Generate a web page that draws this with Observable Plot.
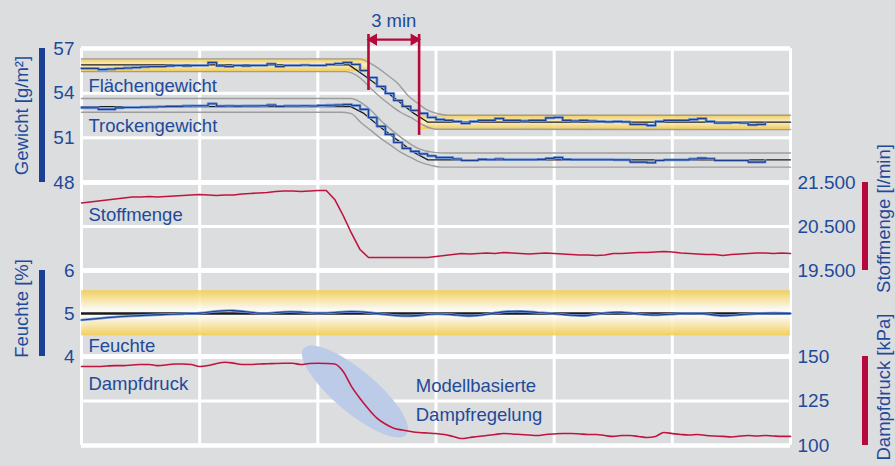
<!DOCTYPE html>
<html><head><meta charset="utf-8">
<script src="https://cdn.jsdelivr.net/npm/d3@7"></script>
<script src="https://cdn.jsdelivr.net/npm/@observablehq/plot@0.6"></script>
<style>
body{margin:0;background:#dcdddf;}
#chart{position:relative;width:895px;height:466px;overflow:hidden;background:#dcdddf;}
#chart svg{position:absolute;left:0;overflow:visible;}
</style></head><body><div id="chart"></div>
<script>
// ---------- data (minutes on x) ----------
const gridMinutes = [0, 7, 14, 21, 28, 35, 42];

// Gewicht [g/m²] – measured, every 0.5 min from 0 to 40.5
const flaechenIst = [55.66,55.66,55.59,55.62,55.66,55.69,55.72,55.76,55.79,55.79,55.83,55.86,55.83,55.86,55.86,56.06,55.83,55.79,55.86,55.83,55.86,55.86,55.97,55.79,55.86,55.86,55.89,55.86,55.86,55.93,55.99,56.06,55.93,55.52,55.05,54.45,53.98,53.51,53.11,52.84,52.64,52.37,52.23,52.17,52.10,51.97,52.10,52.17,52.17,52.30,52.17,52.17,52.13,52.17,52.17,52.34,52.37,52.17,52.13,52.17,52.13,52.10,52.07,52.10,52.07,51.90,51.90,51.83,52.10,52.17,52.17,52.17,52.23,52.30,52.10,52.00,52.00,52.03,52.00,51.87,51.90,52.03];
const trockenIst = [53.02,53.02,52.91,52.91,53.01,53.04,53.04,53.06,53.07,53.09,53.11,53.11,53.14,53.15,53.15,53.29,53.13,53.14,53.13,53.14,53.14,53.15,53.21,53.11,53.14,53.14,53.15,53.14,53.17,53.19,53.21,53.24,53.17,52.91,52.37,51.77,51.23,50.69,50.29,50.09,49.92,49.79,49.68,49.68,49.58,49.48,49.48,49.55,49.53,49.58,49.53,49.53,49.53,49.53,49.55,49.62,49.68,49.55,49.53,49.53,49.53,49.53,49.53,49.52,49.52,49.37,49.37,49.33,49.48,49.52,49.52,49.52,49.58,49.64,49.60,49.48,49.48,49.48,49.48,49.37,49.37,49.48];
// set points [minute, value]
const flaechenSoll = [[0,55.9],[15.84,55.9],[16.73,55.2],[17.73,54.38],[18.74,53.5],[19.69,52.64],[20.52,52.05],[42,52.05]];
const trockenSoll  = [[0,53.1],[15.95,53.1],[16.73,52.64],[17.73,51.7],[18.74,50.83],[19.69,50.02],[20.52,49.52],[42,49.52]];
// tolerance limits [minute, value]
const flaechenOben  = [[0,56.3],[16.43,56.3],[17.32,55.86],[18.15,55.19],[18.74,54.65],[19.34,53.85],[19.93,53.31],[20.52,52.84],[21.11,52.62],[21.7,52.52],[42,52.52]];
const flaechenUnten = [[0,55.45],[15.66,55.45],[16.55,54.99],[17.14,54.32],[17.73,53.71],[18.33,53.17],[18.92,52.7],[19.51,52.37],[20.28,51.83],[21.0,51.58],[42,51.55]];
const trockenOben   = [[0,53.64],[15.95,53.64],[16.96,53.04],[17.91,51.97],[18.92,51.03],[19.93,50.29],[20.88,50.02],[21.6,49.98],[42,49.98]];
const trockenUnten  = [[0,52.72],[15.36,52.72],[15.95,52.64],[16.55,52.03],[17.14,51.5],[17.73,50.96],[18.33,50.49],[18.92,50.02],[19.51,49.68],[20.1,49.35],[20.7,49.15],[21.3,49.03],[42,49.03]];
const flaechenBands = [{t1:0,t2:17,lo:55.45,hi:56.3},{t1:20,t2:42,lo:51.55,hi:52.52}];

// Stoffmenge [l/min], every 0.5 min from 0 to 42
const stoffmenge = [21034,21057,21080,21102,21125,21148,21170,21170,21182,21170,21182,21193,21205,21216,21227,21216,21205,21216,21216,21239,21250,21261,21273,21295,21307,21307,21295,21307,21318,21318,21114,20750,20341,19977,19795,19795,19795,19795,19795,19795,19795,19795,19818,19841,19864,19886,19875,19886,19898,19886,19909,19898,19886,19875,19886,19898,19886,19875,19864,19852,19852,19841,19852,19886,19886,19898,19909,19909,19920,19932,19920,19898,19886,19875,19864,19864,19841,19864,19875,19886,19898,19898,19886,19898,19886];

// Feuchte [%], every 1 min from 0 to 42
const feuchteIst = [4.849,4.884,4.919,4.942,4.965,4.977,4.993,5.0,5.058,5.081,5.023,4.993,5.047,5.035,5.0,5.023,5.058,5.023,4.977,4.930,4.953,5.0,4.977,4.930,4.977,5.047,5.058,5.023,5.0,4.953,4.942,5.023,5.035,4.988,4.953,4.988,5.012,5.0,4.930,4.977,5.0,5.012,5.0];
const feuchteSoll = 5;
const feuchteBand = [{t1:0,t2:42,lo:4.48,hi:5.53}];

// Dampfdruck [kPa], every 0.5 min from 0 to 42
const dampfdruck = [144.4,144.4,144.4,144.7,144.9,144.9,145.2,145.5,145.5,144.9,145.2,145.8,145.8,145.5,144.4,144.9,146.1,146.8,146.3,145.5,145.5,145.8,145.9,146.1,146.2,146.2,145.5,146.1,146.2,146.1,145.8,141.6,133.1,126.4,120.5,115.4,112.1,109.7,108.7,107.9,107.3,107.0,106.7,106.2,105.1,103.9,104.5,105.1,105.6,106.2,106.7,106.5,106.2,105.9,105.6,106.2,106.5,106.7,106.7,106.5,106.2,106.2,105.6,105.1,105.6,105.6,105.1,104.5,105.1,107.3,106.7,106.2,105.9,106.2,105.6,105.3,105.1,104.8,105.3,105.6,105.3,105.6,105.3,105.1,105.1];

// ticks
const ticksGewicht = [48, 51, 54, 57];
const ticksStoff = [19500, 20500, 21500];
const ticksFeuchte = [4, 5, 6];
const ticksDampf = [100, 125, 150];

// annotations
const threeMinMarks = [{t:17, y1:57.94, y2:54.18}, {t:20, y1:57.94, y2:51.16}];
const threeMinArrow = [{t1:17, t2:20, v:57.6}];
const threeMinLabel = [{t:18.5, v:58.42, text:"3 min"}];
const gewichtLabels = [{t:0.41, v:54.05, text:"Flächengewicht"}, {t:0.41, v:51.38, text:"Trockengewicht"}];
const stoffLabels = [{t:0.41, v:20636, text:"Stoffmenge"}];
const feuchteLabels = [{t:0.41, v:4.1, text:"Feuchte"}];
const dampfLabels = [{t:0.41, v:131.3, text:"Dampfdruck"}, {t:19.8, v:129.9, text:"Modellbasierte"}, {t:19.8, v:113.6, text:"Dampfregelung"}];
const ellipseSpot = {t:16.23, v:130.1};

// ---------- styling ----------
const BLUE_TXT = "#1f4a9a", BLUE_BAR = "#1a3f94", RED = "#b5083c", RED_LINE = "#c0143f";
const LIGHT_BLUE = "#7396d6", DARK_BLUE = "#1c3e91", GRAY_TOL = "#9d9d9d";
const FONT = "font-family:'Liberation Sans',Arial,sans-serif;font-size:18.5px;overflow:visible;background:transparent;";
const W = 895, ML = 81, MR = 105;
const fmtDE = d3.formatLocale({decimal: ",", thousands: ".", grouping: [3], currency: ["", "€"]}).format(",d");
const chart = document.getElementById("chart");
const series = (arr, step) => arr.map((v, i) => ({t: i * step, v}));
const pairs = arr => arr.map(([t, v]) => ({t, v}));
const NS = "http://www.w3.org/2000/svg";

function gradientDefs(id, stops) {
  return () => {
    const defs = document.createElementNS(NS, "defs");
    const g = document.createElementNS(NS, "linearGradient");
    g.setAttribute("id", id); g.setAttribute("x1", 0); g.setAttribute("x2", 0); g.setAttribute("y1", 0); g.setAttribute("y2", 1);
    for (const [o, c] of stops) {
      const s = document.createElementNS(NS, "stop");
      s.setAttribute("offset", o); s.setAttribute("stop-color", c); g.appendChild(s);
    }
    defs.appendChild(g);
    return defs;
  };
}
function sideBar(xPx, color) {
  return (index, scales, values, dims) => {
    const r = document.createElementNS(NS, "rect");
    r.setAttribute("x", xPx - 3); r.setAttribute("width", 6);
    r.setAttribute("y", dims.marginTop);
    r.setAttribute("height", dims.height - dims.marginTop - dims.marginBottom);
    r.setAttribute("fill", color);
    return r;
  };
}

function panel({top, height, marginTop = 0, yDomain, ticks, inner, anchor, tickFormat, title, titleDy = 0, barColor, marks}) {
  const left = anchor === "left";
  const svg = Plot.plot({
    width: W, height: height + marginTop, marginTop, marginBottom: 0, marginLeft: ML, marginRight: MR,
    x: {domain: [0, 42], axis: null},
    y: {domain: yDomain, axis: null},
    style: FONT,
    marks: [
      Plot.ruleX(gridMinutes, {stroke: "white", strokeWidth: 3}),
      Plot.ruleY(inner, {stroke: "white", strokeWidth: 3}),
      Plot.ruleY(yDomain, {stroke: "white", strokeWidth: 4.5}),
      ...marks,
      Plot.axisY(ticks, {anchor, label: null, tickSize: 0, tickPadding: 7, tickFormat, color: BLUE_TXT, fontSize: 19}),
      sideBar(left ? 42 : 865, barColor),
      Plot.text([title], {frameAnchor: left ? "left" : "right", dx: left ? -59 : 93.5, dy: titleDy, rotate: -90,
        textAnchor: "middle", lineAnchor: "middle", fill: BLUE_TXT, fontSize: 18.5})
    ]
  });
  svg.style.top = (top - marginTop) + "px";
  chart.appendChild(svg);
}

// ---------- Gewicht ----------
panel({
  top: 48, height: 134, marginTop: 48, yDomain: [48, 57], ticks: ticksGewicht, inner: [51, 54], anchor: "left",
  title: "Gewicht [g/m²]", barColor: BLUE_BAR,
  marks: [
    gradientDefs("gradGewicht", [[0, "#f3c843"], [0.5, "#fcf0c8"], [1, "#f3c843"]]),
    Plot.rect(flaechenBands, {x1: "t1", x2: "t2", y1: "lo", y2: "hi", fill: "url(#gradGewicht)", fillOpacity: 0.85}),
    ...[flaechenOben, flaechenUnten, trockenOben, trockenUnten].map(d =>
      Plot.line(pairs(d), {x: "t", y: "v", stroke: GRAY_TOL, strokeWidth: 1.4, curve: "monotone-x"})),
    ...[flaechenSoll, trockenSoll].map(d =>
      Plot.line(pairs(d), {x: "t", y: "v", stroke: "#1e1e1e", strokeWidth: 1.3})),
    ...[flaechenIst, trockenIst].flatMap(d => [
      Plot.line(series(d, 0.5), {x: "t", y: "v", stroke: LIGHT_BLUE, strokeWidth: 2.8, curve: "step-after"}),
      Plot.line(series(d, 0.5), {x: "t", y: "v", stroke: DARK_BLUE, strokeWidth: 1.1, curve: "step-after"})
    ]),
    Plot.text(gewichtLabels, {x: "t", y: "v", text: "text", textAnchor: "start", lineAnchor: "bottom", fill: BLUE_TXT}),
    Plot.ruleX(threeMinMarks, {x: "t", y1: "y1", y2: "y2", stroke: RED, strokeWidth: 2.6}),
    Plot.link(threeMinArrow, {x1: "t1", x2: "t2", y1: "v", y2: "v", stroke: RED, strokeWidth: 2.2}),
    Plot.dot(threeMinArrow, {x: "t1", y: "v", symbol: "triangle", r: 4.5, fill: RED, rotate: -90, dx: 5}),
    Plot.dot(threeMinArrow, {x: "t2", y: "v", symbol: "triangle", r: 4.5, fill: RED, rotate: 90, dx: -5}),
    Plot.text(threeMinLabel, {x: "t", y: "v", text: "text", lineAnchor: "bottom", fill: BLUE_TXT})
  ]
});

// ---------- Stoffmenge ----------
panel({
  top: 182, height: 88, yDomain: [19500, 21500], ticks: ticksStoff, inner: [20500], anchor: "right", tickFormat: fmtDE,
  title: "Stoffmenge [l/min]", titleDy: -8, barColor: RED,
  marks: [
    Plot.line(series(stoffmenge, 0.5), {x: "t", y: "v", stroke: RED_LINE, strokeWidth: 1.6}),
    Plot.text(stoffLabels, {x: "t", y: "v", text: "text", textAnchor: "start", lineAnchor: "bottom", fill: BLUE_TXT})
  ]
});

// ---------- Feuchte ----------
panel({
  top: 270, height: 86, yDomain: [4, 6], ticks: ticksFeuchte, inner: [5], anchor: "left",
  title: "Feuchte [%]", titleDy: -5, barColor: BLUE_BAR,
  marks: [
    gradientDefs("gradFeuchte", [[0, "#f6cd4c"], [0.42, "#fffdf6"], [0.58, "#fffdf6"], [1, "#f6cd4c"]]),
    Plot.rect(feuchteBand, {x1: "t1", x2: "t2", y1: "lo", y2: "hi", fill: "url(#gradFeuchte)", fillOpacity: 0.88}),
    Plot.ruleY([feuchteSoll], {stroke: "#1a1a1a", strokeWidth: 2.6}),
    Plot.line(series(feuchteIst, 1), {x: "t", y: "v", stroke: LIGHT_BLUE, strokeWidth: 2.6, curve: "basis"}),
    Plot.line(series(feuchteIst, 1), {x: "t", y: "v", stroke: DARK_BLUE, strokeWidth: 1.1, curve: "basis"}),
    Plot.text(feuchteLabels, {x: "t", y: "v", text: "text", textAnchor: "start", lineAnchor: "bottom", fill: BLUE_TXT})
  ]
});

// ---------- Dampfdruck ----------
panel({
  top: 356, height: 89, yDomain: [100, 150], ticks: ticksDampf, inner: [125], anchor: "right",
  title: "Dampfdruck [kPa]", titleDy: -14, barColor: RED,
  marks: [
    (index, scales) => {
      const e = document.createElementNS(NS, "ellipse");
      const cx = scales.x(ellipseSpot.t), cy = scales.y(ellipseSpot.v);
      e.setAttribute("cx", cx); e.setAttribute("cy", cy);
      e.setAttribute("rx", 67); e.setAttribute("ry", 21);
      e.setAttribute("transform", `rotate(40 ${cx} ${cy})`);
      e.setAttribute("fill", "#bccbe7");
      return e;
    },
    Plot.line(series(dampfdruck, 0.5), {x: "t", y: "v", stroke: RED_LINE, strokeWidth: 1.6, curve: "monotone-x"}),
    Plot.text(dampfLabels, {x: "t", y: "v", text: "text", textAnchor: "start", lineAnchor: "bottom", fill: BLUE_TXT})
  ]
});
</script>
</body></html>
